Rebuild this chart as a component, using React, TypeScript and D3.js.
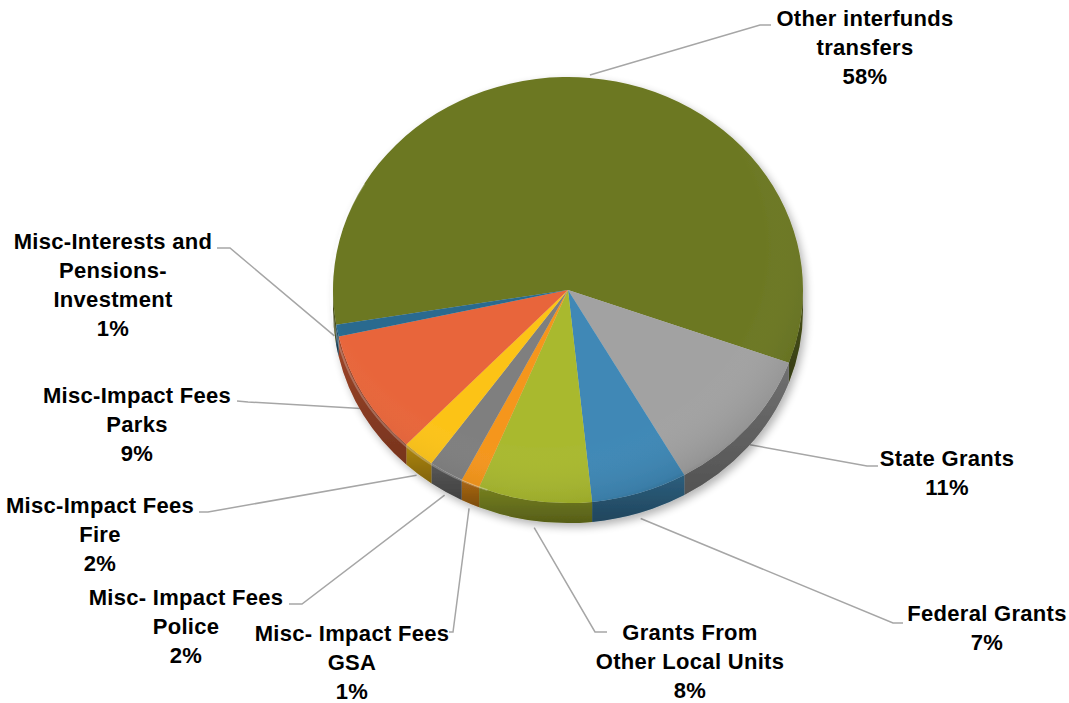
import React from "react";
import * as d3 from "d3";

const categories = [
  "Other interfunds transfers",
  "State Grants",
  "Federal Grants",
  "Grants From Other Local Units",
  "Misc- Impact Fees GSA",
  "Misc- Impact Fees Police",
  "Misc-Impact Fees Fire",
  "Misc-Impact Fees Parks",
  "Misc-Interests and Pensions-Investment",
];
const values = [58.1, 11.2, 6.6, 7.8, 1.3, 2.4, 2.2, 9.4, 0.9];
const labelLines = [
  ["Other interfunds", "transfers"],
  ["State Grants"],
  ["Federal Grants"],
  ["Grants From", "Other Local Units"],
  ["Misc- Impact Fees", "GSA"],
  ["Misc- Impact Fees", "Police"],
  ["Misc-Impact Fees", "Fire"],
  ["Misc-Impact Fees", "Parks"],
  ["Misc-Interests and", "Pensions-", "Investment"],
];
const colors = [
  "#6c7823",
  "#a2a2a2",
  "#3f88b6",
  "#a9b92f",
  "#f5961c",
  "#7f7f7f",
  "#fcc318",
  "#e8653a",
  "#2a6b8f",
];

// layout (positions of label blocks and leader-line elbows)
const labelLayout = [
  { x: 865, y: 18, elbow: [760, 25], end: [771, 25] },
  { x: 947, y: 458, elbow: [867, 466], end: [878, 466] },
  { x: 987, y: 613, elbow: [893, 623], end: [903, 623] },
  { x: 690, y: 632, elbow: [595, 632], end: [607, 632] },
  { x: 352, y: 633, elbow: [453, 632], end: [449, 632] },
  { x: 186, y: 597, elbow: [302, 604], end: [289, 604] },
  { x: 100, y: 505, elbow: [208, 512], end: [199, 512] },
  { x: 137, y: 395, elbow: [248, 402], end: [237, 401] },
  { x: 113, y: 241, elbow: [230, 248], end: [217, 248] },
];

const W = 1069;
const H = 703;
const cx = 568;
const cy = 290;
const rx = 235;
const ry = 213;
const depth = 20;
const lineStep = 29;
const startDeg = 260.6;

function pt(a: number, dy = 0): [number, number] {
  return [cx + rx * Math.sin(a), cy - ry * Math.cos(a) + dy];
}

function topPath(a0: number, a1: number) {
  const p0 = pt(a0);
  const p1 = pt(a1);
  const large = a1 - a0 > Math.PI ? 1 : 0;
  return `M${cx},${cy}L${p0[0]},${p0[1]}A${rx},${ry} 0 ${large} 1 ${p1[0]},${p1[1]}Z`;
}

function sidePath(a0: number, a1: number) {
  const p0 = pt(a0);
  const p1 = pt(a1);
  const q0 = pt(a0, depth);
  const q1 = pt(a1, depth);
  return `M${p0[0]},${p0[1]}A${rx},${ry} 0 0 1 ${p1[0]},${p1[1]}L${q1[0]},${q1[1]}A${rx},${ry} 0 0 0 ${q0[0]},${q0[1]}Z`;
}

function frontIntervals(a0: number, a1: number): [number, number][] {
  const res: [number, number][] = [];
  const PI = Math.PI;
  for (let k = -1; k <= 2; k++) {
    const lo = PI / 2 + k * 2 * PI;
    const hi = (3 * PI) / 2 + k * 2 * PI;
    const s = Math.max(a0, lo);
    const e = Math.min(a1, hi);
    if (e > s) res.push([s, e]);
  }
  return res;
}

export default function App() {
  const total = d3.sum(values);
  const start = (startDeg * Math.PI) / 180;
  const arcs = d3
    .pie<number>()
    .sort(null)
    .value((d) => d)
    .startAngle(start)
    .endAngle(start + 2 * Math.PI)(values);

  const fmt = (v: number) => `${Math.round((v / total) * 100)}%`;
  const rimA = (200 * Math.PI) / 180;
  const rimB = (300 * Math.PI) / 180;

  return (
    <svg
      width={W}
      height={H}
      style={{ position: "absolute", left: 0, top: 0, background: "#fff" }}
      fontFamily="'Liberation Sans', Arial, sans-serif"
    >
      <defs>
        <filter id="shadow" x="-20%" y="-20%" width="140%" height="140%">
          <feGaussianBlur in="SourceAlpha" stdDeviation="4" />
          <feOffset dx="3" dy="4" result="b" />
          <feComponentTransfer>
            <feFuncA type="linear" slope="0.3" />
          </feComponentTransfer>
          <feMerge>
            <feMergeNode />
            <feMergeNode in="SourceGraphic" />
          </feMerge>
        </filter>
        <radialGradient id="topShade" cx="0.45" cy="0.4" r="0.62">
          <stop offset="0.75" stopColor="#fff" stopOpacity="0" />
          <stop offset="0.97" stopColor="#000" stopOpacity="0.08" />
          <stop offset="1" stopColor="#000" stopOpacity="0.18" />
        </radialGradient>
        <linearGradient id="sideShade" x1="0" y1="0" x2="0" y2="1">
          <stop offset="0" stopColor="#000" stopOpacity="0.05" />
          <stop offset="1" stopColor="#000" stopOpacity="0.3" />
        </linearGradient>
      </defs>

      {/* leader lines */}
      <g stroke="#a6a6a6" strokeWidth={1.5} fill="none">
        {arcs.map((a, i) => {
          const mid = (a.startAngle + a.endAngle) / 2;
          const p = pt(mid);
          const c = Math.cos(mid);
          const down = c < 0 ? -c * (depth + 4) : 0;
          const ox = Math.sin(mid) * 3;
          const oy = -c * 3;
          const L = labelLayout[i];
          return (
            <polyline
              key={i}
              points={`${p[0] + ox},${p[1] + down + oy} ${L.elbow[0]},${L.elbow[1]} ${L.end[0]},${L.end[1]}`}
            />
          );
        })}
      </g>

      <g filter="url(#shadow)">
        {arcs.map((a, i) =>
          frontIntervals(a.startAngle, a.endAngle).map(([s, e], j) => (
            <g key={`s${i}-${j}`}>
              <path d={sidePath(s, e)} fill={d3.color(colors[i])!.darker(0.9).toString()} />
              <path d={sidePath(s, e)} fill="url(#sideShade)" />
            </g>
          ))
        )}
        {arcs.map((a, i) => (
          <path key={`t${i}`} d={topPath(a.startAngle, a.endAngle)} fill={colors[i]} />
        ))}
        <ellipse cx={cx} cy={cy} rx={rx} ry={ry} fill="url(#topShade)" />
        <path
          d={`M${pt(rimA)[0]},${pt(rimA)[1]}A${rx - 3},${ry - 3} 0 0 1 ${pt(rimB)[0]},${pt(rimB)[1]}`}
          fill="none"
          stroke="#fff"
          strokeOpacity={0.25}
          strokeWidth={2}
        />
      </g>

      {/* labels */}
      <g fontWeight="bold" fontSize={22} letterSpacing={0.3} fill="#000" textAnchor="middle">
        {arcs.map((a, i) => {
          const L = labelLayout[i];
          const lines = [...labelLines[i], fmt(a.data)];
          return (
            <text key={`l${i}`} x={L.x} y={L.y}>
              {lines.map((t, k) => (
                <tspan key={k} x={L.x} y={L.y + k * lineStep} dy="0.36em">
                  {t}
                </tspan>
              ))}
            </text>
          );
        })}
      </g>
    </svg>
  );
}
